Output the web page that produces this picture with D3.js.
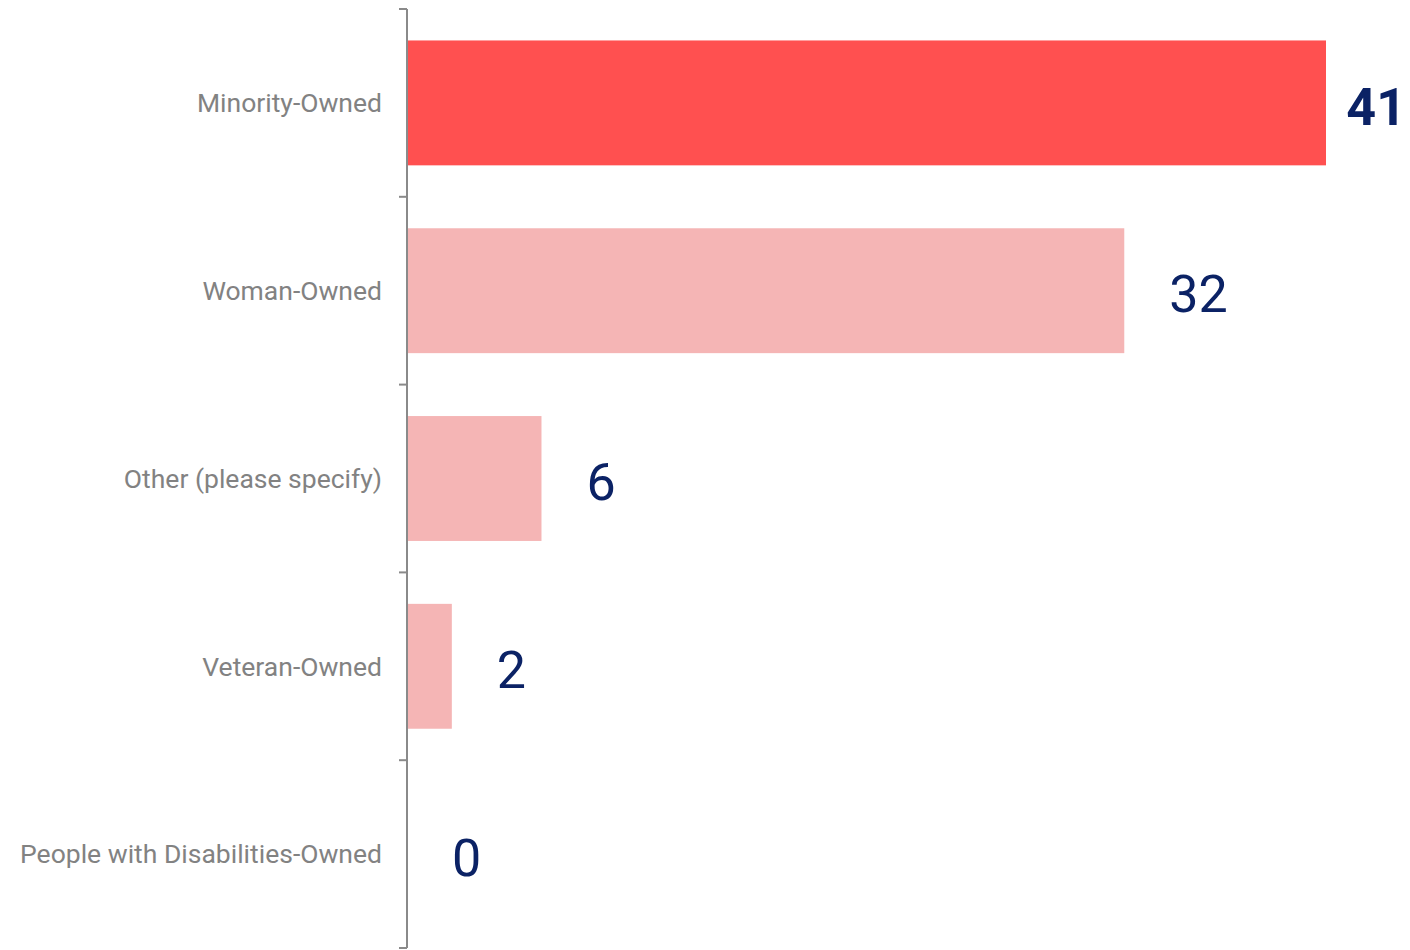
<!DOCTYPE html>
<html>
<head>
<meta charset="utf-8">
<script src="https://cdn.jsdelivr.net/npm/d3@7"></script>
<style>
  html, body { margin: 0; padding: 0; background: #fff; }
  svg { display: block; font-family: Roboto, "Noto Sans", sans-serif; }
</style>
</head>
<body>
<div id="chart"></div>
<script>
// ownership categories and counts
var categories = ["Minority-Owned", "Woman-Owned", "Other (please specify)", "Veteran-Owned", "People with Disabilities-Owned"];
var counts = [41, 32, 6, 2, 0];
var highlighted = ["Minority-Owned"];

var chartWidth = 1410, chartHeight = 950;
var margin = { top: 9, left: 407, right: 10, bottom: 2 },
    width = chartWidth - margin.left - margin.right,
    height = chartHeight - margin.top - margin.bottom;

var data = categories.map(function(c, i) { return { category: c, count: counts[i] }; });

var svg = d3.select("#chart").append("svg")
    .attr("width", chartWidth)
    .attr("height", chartHeight);

var g = svg.append("g").attr("transform", "translate(" + margin.left + "," + margin.top + ")");

var x = d3.scaleLinear().domain([0, 41]).range([0, 919]);

var y = d3.scaleBand()
    .domain(categories)
    .range([0, height])
    .paddingInner(0.335)
    .paddingOuter(0.1675);

// bars
g.selectAll("rect.bar")
    .data(data)
    .enter().append("rect")
    .attr("class", "bar")
    .attr("x", 0)
    .attr("y", function(d) { return y(d.category); })
    .attr("width", function(d) { return x(d.count); })
    .attr("height", y.bandwidth())
    .attr("fill", function(d) { return highlighted.indexOf(d.category) > -1 ? "#FF5050" : "#F5B5B5"; });

// axis: ticks on band boundaries, labels drawn separately
var boundaries = d3.range(categories.length + 1).map(function(i) { return i * y.step(); });
var axis = g.append("g").attr("class", "axis");
axis.append("line")
    .attr("x1", 0).attr("x2", 0)
    .attr("y1", 0).attr("y2", height)
    .attr("stroke", "#8a8a8a").attr("stroke-width", 2);
axis.selectAll("line.tick")
    .data(boundaries)
    .enter().append("line")
    .attr("class", "tick")
    .attr("x1", -8).attr("x2", 0)
    .attr("y1", function(d) { return d; }).attr("y2", function(d) { return d; })
    .attr("stroke", "#8a8a8a").attr("stroke-width", 2);

g.selectAll("text.cat")
    .data(data)
    .enter().append("text")
    .attr("class", "cat")
    .attr("x", -25)
    .attr("y", function(d) { return y(d.category) + y.bandwidth() / 2; })
    .attr("dy", "0.35em")
    .attr("text-anchor", "end")
    .style("font-size", "26.5px")
    .style("fill", "#828282")
    .text(function(d) { return d.category; });

// value labels, pulled back inside when they'd run off the right edge
var maxX = chartWidth - margin.left - 4;
g.selectAll("text.val")
    .data(data)
    .enter().append("text")
    .attr("class", "val")
    .attr("y", function(d) { return y(d.category) + y.bandwidth() / 2 + 3; })
    .attr("dy", "0.36em")
    .style("font-size", "52px")
    .style("font-weight", function(d) { return highlighted.indexOf(d.category) > -1 ? 700 : 400; })
    .style("fill", "#0B2265")
    .text(function(d) { return d.count; })
    .each(function(d) {
        var el = d3.select(this);
        var w = this.getComputedTextLength();
        var start = x(d.count) + 45;
        if (start + w > maxX) {
            el.attr("x", maxX).attr("text-anchor", "end");
        } else {
            el.attr("x", start).attr("text-anchor", "start");
        }
    });
</script>
</body>
</html>
